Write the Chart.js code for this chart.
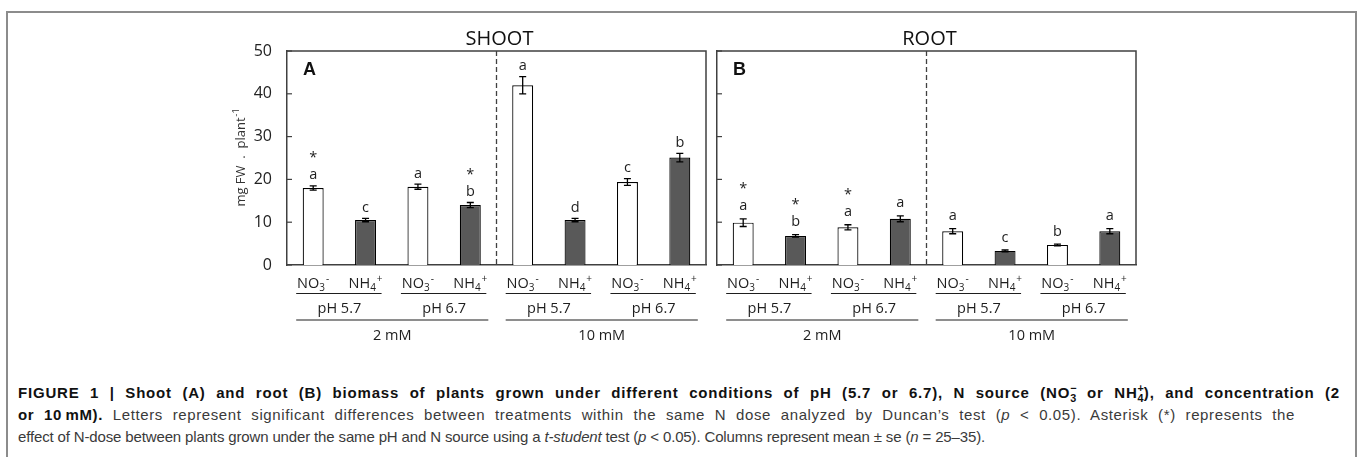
<!DOCTYPE html>
<html>
<head>
<meta charset="utf-8">
<script src="https://cdn.jsdelivr.net/npm/chart.js@4.4.1/dist/chart.umd.min.js"></script>
<style>
    html, body { margin: 0; padding: 0; background: #fff; }
    body { width: 1357px; height: 457px; position: relative; overflow: hidden; }
    #frame { position: absolute; left: 6px; top: 11px; width: 1347px; height: 470px; border: 2px solid #8c8c8c; border-bottom: none; }
    #shootBox { position: absolute; left: 200px; top: 15px; }
    #rootBox { position: absolute; left: 712px; top: 15px; }
    #caption { position: absolute; left: 18px; top: 382px; font-family: 'Liberation Sans', Arial, sans-serif; font-size: 15px; line-height: 22px; color: #3a3a3a; white-space: nowrap; }
    #caption .line { display: inline-block; }
    #caption b { color: #111; }
    .ion { display: inline-block; vertical-align: -0.35em; font-size: 0.72em; line-height: 0.9em; text-align: left; letter-spacing: 0; }
    .ion span { display: block; }
</style>
</head>
<body>
<div id="frame"></div>
<div id="shootBox"><canvas id="shootChart" width="515" height="340"></canvas></div>
<div id="rootBox"><canvas id="rootChart" width="434" height="340"></canvas></div>
<div id="caption">
    <span class="line" data-w="1322" data-ls="0.45"><b>FIGURE 1 | Shoot (A) and root (B) biomass of plants grown under different conditions of pH (5.7 or 6.7), N source (NO<span class="ion"><span>−</span><span>3</span></span> or NH<span class="ion"><span>+</span><span>4</span></span>), and concentration (2</b></span><br>
    <span class="line" data-w="1282" data-ls="0.45"><b>or 10&#8201;mM).</b> Letters represent significant differences between treatments within the same N dose analyzed by Duncan’s test (<i>p</i> &lt; 0.05). Asterisk (*) represents the</span><br>
    <span class="line" data-w="967" data-ls="1">effect of N-dose between plants grown under the same pH and N source using a <i>t-student</i> test (<i>p</i> &lt; 0.05). Columns represent mean ± se (<i>n</i> = 25–35).</span>
</div>

<script>
// x categories: N source per bar, then pH and N dose groups
const sources = ['NO3-', 'NH4+', 'NO3-', 'NH4+', 'NO3-', 'NH4+', 'NO3-', 'NH4+'];
const phGroups = ['pH 5.7', 'pH 6.7', 'pH 5.7', 'pH 6.7'];
const doseGroups = ['2 mM', '10 mM'];

// shoot (A), mg FW per plant
const shootMeans = [18.0, 10.5, 18.3, 14.0, 42.0, 10.5, 19.4, 25.1];
const shootErr = [0.5, 0.4, 0.6, 0.6, 2.0, 0.4, 0.8, 1.0];
const shootLetters = ['a', 'c', 'a', 'b', 'a', 'd', 'c', 'b'];
const shootStars = [true, false, false, true, false, false, false, false];

// root (B)
const rootMeans = [9.9, 6.8, 8.8, 10.8, 7.9, 3.3, 4.7, 7.9];
const rootErr = [0.9, 0.3, 0.6, 0.7, 0.6, 0.2, 0.2, 0.6];
const rootLetters = ['a', 'b', 'a', 'a', 'a', 'c', 'b', 'a'];
const rootStars = [true, true, true, false, false, false, false, false];

const yMin = 0, yMax = 50, yStep = 10;

const FONT = "'Open Sans', 'Noto Sans', sans-serif";
const INK = '#1e1e1e';
const AXIS = '#404040';

Chart.defaults.font.family = FONT;

// fit caption lines to the widths of the (justified) original:
// part of the difference goes to letter spacing, the rest to word spacing
document.querySelectorAll('#caption .line[data-w]').forEach(el => {
    const target = +el.dataset.w;
    const share = +el.dataset.ls;
    const text = el.textContent.trim().replace(/\s+/g, ' ');
    const chars = text.length;
    const spaces = (text.match(/ /g) || []).length;
    let extra = target - el.getBoundingClientRect().width;
    el.style.letterSpacing = (extra * share / chars) + 'px';
    extra = target - el.getBoundingClientRect().width;
    if (spaces && share < 1) el.style.wordSpacing = (extra / spaces) + 'px';
});

// draws "NO" + sub "3" + sup "-" centred on cx
function drawIon(ctx, label, cx, base) {
    const main = label.slice(0, 2);
    const sub = label.slice(2, 3);
    const sup = label.slice(3);
    ctx.font = '14.5px ' + FONT;
    const wm = ctx.measureText(main).width;
    ctx.font = '10px ' + FONT;
    const ws = ctx.measureText(sub).width;
    const wp = ctx.measureText(sup).width;
    let x = cx - (wm + ws + 1 + wp) / 2;
    ctx.textAlign = 'left';
    ctx.font = '14.5px ' + FONT;
    ctx.fillText(main, x, base);
    x += wm;
    ctx.font = '10px ' + FONT;
    ctx.fillText(sub, x, base + 3);
    x += ws + 1;
    ctx.fillText(sup, x, base - 6);
}

const panelPlugin = {
    id: 'panel',
    afterDatasetsDraw(chart, args, opts) {
        const ctx = chart.ctx;
        const a = chart.chartArea;
        const x = chart.scales.x;
        const y = chart.scales.y;
        ctx.save();

        // box top + right
        ctx.strokeStyle = AXIS;
        ctx.lineWidth = 1.5;
        ctx.beginPath();
        ctx.moveTo(a.left, a.top);
        ctx.lineTo(a.right, a.top);
        ctx.lineTo(a.right, a.bottom);
        ctx.stroke();

        // inward tick marks
        ctx.lineWidth = 1.2;
        y.ticks.forEach(t => {
            const py = y.getPixelForValue(t.value);
            ctx.beginPath();
            ctx.moveTo(a.left, py);
            ctx.lineTo(a.left + 5, py);
            ctx.stroke();
        });

        // dashed line between the two N doses
        const mid = (x.getPixelForValue(3) + x.getPixelForValue(4)) / 2;
        ctx.setLineDash([5, 3]);
        ctx.lineWidth = 1.3;
        ctx.beginPath();
        ctx.moveTo(mid, a.top);
        ctx.lineTo(mid, a.bottom);
        ctx.stroke();
        ctx.setLineDash([]);

        // error bars
        const means = chart.data.datasets[0].data;
        ctx.strokeStyle = '#000';
        ctx.lineWidth = 1.3;
        means.forEach((m, i) => {
            const cx = x.getPixelForValue(i);
            const top = y.getPixelForValue(m + opts.errs[i]);
            const bot = y.getPixelForValue(m - opts.errs[i]);
            ctx.beginPath();
            ctx.moveTo(cx, top); ctx.lineTo(cx, bot);
            ctx.moveTo(cx - 3.5, top); ctx.lineTo(cx + 3.5, top);
            ctx.moveTo(cx - 3.5, bot); ctx.lineTo(cx + 3.5, bot);
            ctx.stroke();

            // letters and asterisks
            ctx.fillStyle = INK;
            ctx.textAlign = 'center';
            ctx.font = '14.5px ' + FONT;
            const letterMid = top - opts.gap;
            ctx.fillText(opts.letters[i], cx, letterMid + 4);
            if (opts.stars[i]) {
                ctx.fillText('*', cx, letterMid - 13);
            }
        });

        // x labels: source, pH, dose
        ctx.fillStyle = INK;
        ctx.strokeStyle = INK;
        ctx.lineWidth = 1.2;
        sources.forEach((s, i) => drawIon(ctx, s, x.getPixelForValue(i), a.bottom + 23));

        ctx.textAlign = 'center';
        ctx.font = '14.5px ' + FONT;
        phGroups.forEach((p, k) => {
            const x1 = x.getPixelForValue(2 * k) - 17;
            const x2 = x.getPixelForValue(2 * k + 1) + 16;
            ctx.beginPath();
            ctx.moveTo(x1, a.bottom + 28.5);
            ctx.lineTo(x2, a.bottom + 28.5);
            ctx.stroke();
            const c = (x.getPixelForValue(2 * k) + x.getPixelForValue(2 * k + 1)) / 2;
            ctx.fillText(p, c, a.bottom + 48);
        });
        doseGroups.forEach((d, k) => {
            const x1 = x.getPixelForValue(4 * k) - 17;
            const x2 = x.getPixelForValue(4 * k + 3) + 18;
            ctx.beginPath();
            ctx.moveTo(x1, a.bottom + 55);
            ctx.lineTo(x2, a.bottom + 55);
            ctx.stroke();
            ctx.fillText(d, (x1 + x2) / 2, a.bottom + 75);
        });

        // panel title and tag
        ctx.font = '20px ' + FONT;
        ctx.fillStyle = '#111';
        ctx.fillText(opts.title, (a.left + a.right) / 2 + 3, a.top - 6);
        ctx.textAlign = 'left';
        ctx.font = "bold 18px 'Liberation Sans', Arial, sans-serif";
        ctx.fillText(opts.tag, a.left + 16, a.top + 24);

        // y axis title with superscript
        if (opts.yTitle) {
            ctx.save();
            ctx.translate(a.left - 47, (a.top + a.bottom) / 2);
            ctx.rotate(-Math.PI / 2);
            ctx.font = '13px ' + FONT;
            const w1 = ctx.measureText(opts.yTitle).width;
            ctx.font = '9px ' + FONT;
            const w2 = ctx.measureText('-1').width;
            const start = -(w1 + w2) / 2;
            ctx.fillStyle = '#333';
            ctx.font = '13px ' + FONT;
            ctx.fillText(opts.yTitle, start, 4.5);
            ctx.font = '9px ' + FONT;
            ctx.fillText('-1', start + w1 + 1, -1.5);
            ctx.restore();
        }
        ctx.restore();
    }
};

function makeChart(id, means, panelOpts, showTicks, yWidth, padLeft, padRight) {
    return new Chart(document.getElementById(id), {
        type: 'bar',
        data: {
            labels: sources,
            datasets: [{
                data: means,
                backgroundColor: means.map((v, i) => i % 2 ? '#595959' : '#ffffff'),
                borderColor: '#000',
                borderWidth: 1.2,
                barPercentage: 0.4,
                categoryPercentage: 1
            }]
        },
        options: {
            responsive: false,
            animation: false,
            layout: { padding: { left: padLeft, right: padRight, top: 36, bottom: 90 } },
            plugins: {
                legend: { display: false },
                tooltip: { enabled: false },
                panel: panelOpts
            },
            scales: {
                x: {
                    grid: { display: false, drawTicks: false },
                    border: { color: AXIS, width: 1.5 },
                    ticks: { display: false },
                    afterFit: s => { s.height = 0; }
                },
                y: {
                    min: yMin,
                    max: yMax,
                    grid: { display: false, drawTicks: false },
                    border: { color: AXIS, width: 1.5 },
                    ticks: { stepSize: yStep, display: showTicks, padding: 15, color: '#222', font: { size: 16 } },
                    afterFit: s => { s.width = yWidth; }
                }
            }
        },
        plugins: [panelPlugin]
    });
}

makeChart('shootChart', shootMeans, {
    errs: shootErr, letters: shootLetters, stars: shootStars,
    title: 'SHOOT', tag: 'A', yTitle: 'mg FW  .  plant', gap: 10.5
}, true, 45, 42, 9);

makeChart('rootChart', rootMeans, {
    errs: rootErr, letters: rootLetters, stars: rootStars,
    title: 'ROOT', tag: 'B', yTitle: null, gap: 12.5
}, false, 5, 0, 10);
</script>
</body>
</html>
